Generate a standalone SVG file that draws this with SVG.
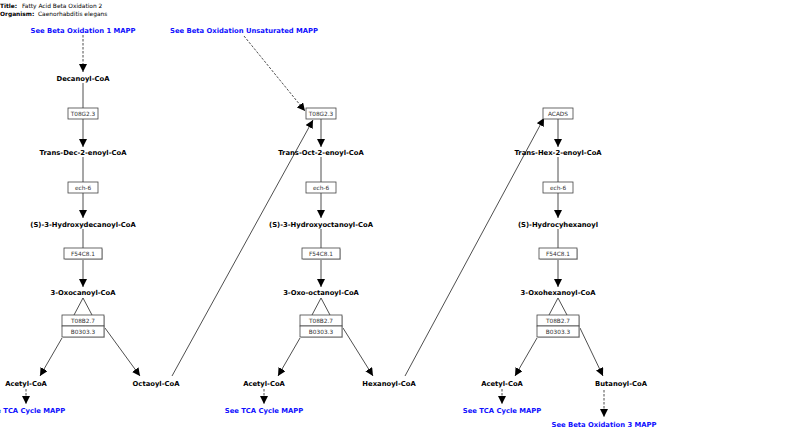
<svg xmlns="http://www.w3.org/2000/svg" width="800" height="437" viewBox="0 0 800 437">
<style>
.m{font-family:"DejaVu Sans",sans-serif;font-weight:bold;font-size:6.8px;fill:#000;text-anchor:middle}
.l{font-family:"DejaVu Sans",sans-serif;font-weight:bold;font-size:6.8px;fill:#1010ff;text-anchor:middle}
.g{font-family:"DejaVu Sans",sans-serif;font-size:5.8px;fill:#333;text-anchor:middle}
.t{font-family:"DejaVu Sans",sans-serif;font-size:5.9px;fill:#000}
.tb{font-weight:bold}
.box{fill:#fff;stroke:#444;stroke-width:0.8}
.sh{fill:#ccc}
.ln{stroke:#222;stroke-width:0.8;fill:none}
.ds{stroke:#222;stroke-width:0.8;fill:none;stroke-dasharray:2.5,1.5}
</style>
<defs>
<marker id="a" markerWidth="8" markerHeight="8" refX="8" refY="4" orient="auto" markerUnits="userSpaceOnUse" viewBox="0 0 8 8">
<path d="M0,0 L8,4 L0,8 Z" fill="#000"/>
</marker>
</defs>
<g id="title">
<text class="t" x="0" y="8"><tspan class="tb">Title:</tspan><tspan x="22">Fatty Acid Beta Oxidation 2</tspan></text>
<text class="t" x="0" y="16"><tspan class="tb">Organism:</tspan><tspan x="38">Caenorhabditis elegans</tspan></text>
</g>
<g id="connectors">
<line class="ds" x1="83" y1="35" x2="83" y2="72" marker-end="url(#a)"/>
<line class="ln" x1="83" y1="83" x2="83" y2="108"/>
<line class="ln" x1="83" y1="119" x2="83" y2="147" marker-end="url(#a)"/>
<line class="ln" x1="83" y1="157" x2="83" y2="182"/>
<line class="ln" x1="83" y1="193" x2="83" y2="218" marker-end="url(#a)"/>
<line class="ln" x1="83" y1="229" x2="83" y2="248"/>
<line class="ln" x1="83" y1="259" x2="83" y2="287" marker-end="url(#a)"/>
<polyline class="ln" points="74,315 83,298 92,315"/>
<line class="ln" x1="62" y1="338" x2="40" y2="376" marker-end="url(#a)"/>
<line class="ln" x1="105" y1="328" x2="140" y2="376" marker-end="url(#a)"/>
<line class="ds" x1="26" y1="389" x2="26" y2="404" marker-end="url(#a)"/>
<line class="ln" x1="172" y1="376" x2="313" y2="120" marker-end="url(#a)"/>
<line class="ds" x1="244" y1="36" x2="305" y2="111" marker-end="url(#a)"/>
<line class="ln" x1="321" y1="119" x2="321" y2="147" marker-end="url(#a)"/>
<line class="ln" x1="321" y1="157" x2="321" y2="182"/>
<line class="ln" x1="321" y1="193" x2="321" y2="218" marker-end="url(#a)"/>
<line class="ln" x1="321" y1="229" x2="321" y2="248"/>
<line class="ln" x1="321" y1="259" x2="321" y2="287" marker-end="url(#a)"/>
<polyline class="ln" points="312,315 321,298 330,315"/>
<line class="ln" x1="300" y1="338" x2="278" y2="376" marker-end="url(#a)"/>
<line class="ln" x1="343" y1="328" x2="373" y2="376" marker-end="url(#a)"/>
<line class="ds" x1="264" y1="389" x2="264" y2="404" marker-end="url(#a)"/>
<line class="ln" x1="405" y1="376" x2="544" y2="118" marker-end="url(#a)"/>
<line class="ln" x1="558" y1="119" x2="558" y2="147" marker-end="url(#a)"/>
<line class="ln" x1="558" y1="157" x2="558" y2="182"/>
<line class="ln" x1="558" y1="193" x2="558" y2="218" marker-end="url(#a)"/>
<line class="ln" x1="558" y1="229" x2="558" y2="248"/>
<line class="ln" x1="558" y1="259" x2="558" y2="287" marker-end="url(#a)"/>
<polyline class="ln" points="549,315 558,298 567,315"/>
<line class="ln" x1="537" y1="338" x2="515" y2="376" marker-end="url(#a)"/>
<line class="ln" x1="580" y1="328" x2="603" y2="376" marker-end="url(#a)"/>
<line class="ds" x1="502" y1="389" x2="502" y2="404" marker-end="url(#a)"/>
<line class="ds" x1="604" y1="390" x2="604" y2="417" marker-end="url(#a)"/>
</g>
<g id="link-bo1"><text class="l" x="83" y="33">See Beta Oxidation 1 MAPP</text></g>
<g id="link-bou"><text class="l" x="244" y="33">See Beta Oxidation Unsaturated MAPP</text></g>
<g id="m-decanoyl"><text class="m" x="83" y="81">Decanoyl-CoA</text></g>
<g id="g-t08g2-1"><rect class="box" x="68" y="108" width="30" height="11"/><text class="g" x="83" y="116">T08G2.3</text></g>
<g id="m-transdec"><text class="m" x="83" y="155">Trans-Dec-2-enoyl-CoA</text></g>
<g id="g-ech6-1"><rect class="box" x="68" y="182" width="30" height="11"/><text class="g" x="83" y="190">ech-6</text></g>
<g id="m-hydroxydec"><text class="m" x="83" y="227">(S)-3-Hydroxydecanoyl-CoA</text></g>
<g id="g-f54-1"><rect class="sh" x="65" y="249" width="38" height="11"/><rect class="box" x="64" y="248" width="38" height="11"/><text class="g" x="83" y="256">F54C8.1</text></g>
<g id="m-oxocan"><text class="m" x="83" y="295">3-Oxocanoyl-CoA</text></g>
<g id="g-thiolase-1"><rect class="sh" x="63" y="316" width="42" height="22"/><rect class="box" x="62" y="315" width="42" height="11"/><rect class="box" x="62" y="326" width="42" height="11"/><text class="g" x="83" y="323">T08B2.7</text><text class="g" x="83" y="334">B0303.3</text></g>
<g id="m-acetyl-1"><text class="m" x="26" y="386">Acetyl-CoA</text></g>
<g id="m-octaoyl"><text class="m" x="156" y="386">Octaoyl-CoA</text></g>
<g id="link-tca-1"><text class="l" x="26" y="413">See TCA Cycle MAPP</text></g>
<g id="g-t08g2-2"><rect class="box" x="306" y="108" width="30" height="11"/><text class="g" x="321" y="116">T08G2.3</text></g>
<g id="m-transoct"><text class="m" x="321" y="155">Trans-Oct-2-enoyl-CoA</text></g>
<g id="g-ech6-2"><rect class="box" x="306" y="182" width="30" height="11"/><text class="g" x="321" y="190">ech-6</text></g>
<g id="m-hydroxyoct"><text class="m" x="321" y="227">(S)-3-Hydroxyoctanoyl-CoA</text></g>
<g id="g-f54-2"><rect class="sh" x="303" y="249" width="38" height="11"/><rect class="box" x="302" y="248" width="38" height="11"/><text class="g" x="321" y="256">F54C8.1</text></g>
<g id="m-oxooct"><text class="m" x="321" y="295">3-Oxo-octanoyl-CoA</text></g>
<g id="g-thiolase-2"><rect class="sh" x="301" y="316" width="42" height="22"/><rect class="box" x="300" y="315" width="42" height="11"/><rect class="box" x="300" y="326" width="42" height="11"/><text class="g" x="321" y="323">T08B2.7</text><text class="g" x="321" y="334">B0303.3</text></g>
<g id="m-acetyl-2"><text class="m" x="264" y="386">Acetyl-CoA</text></g>
<g id="m-hexanoyl"><text class="m" x="389" y="386">Hexanoyl-CoA</text></g>
<g id="link-tca-2"><text class="l" x="264" y="413">See TCA Cycle MAPP</text></g>
<g id="g-acads"><rect class="box" x="543" y="108" width="30" height="11"/><text class="g" x="558" y="116">ACADS</text></g>
<g id="m-transhex"><text class="m" x="558" y="155">Trans-Hex-2-enoyl-CoA</text></g>
<g id="g-ech6-3"><rect class="box" x="543" y="182" width="30" height="11"/><text class="g" x="558" y="190">ech-6</text></g>
<g id="m-hydroxyhex"><text class="m" x="558" y="227">(S)-Hydrocyhexanoyl</text></g>
<g id="g-f54-3"><rect class="sh" x="540" y="249" width="38" height="11"/><rect class="box" x="539" y="248" width="38" height="11"/><text class="g" x="558" y="256">F54C8.1</text></g>
<g id="m-oxohex"><text class="m" x="558" y="295">3-Oxohexanoyl-CoA</text></g>
<g id="g-thiolase-3"><rect class="sh" x="538" y="316" width="42" height="22"/><rect class="box" x="537" y="315" width="42" height="11"/><rect class="box" x="537" y="326" width="42" height="11"/><text class="g" x="558" y="323">T08B2.7</text><text class="g" x="558" y="334">B0303.3</text></g>
<g id="m-acetyl-3"><text class="m" x="502" y="386">Acetyl-CoA</text></g>
<g id="m-butanoyl"><text class="m" x="621" y="386">Butanoyl-CoA</text></g>
<g id="link-tca-3"><text class="l" x="502" y="413">See TCA Cycle MAPP</text></g>
<g id="link-bo3"><text class="l" x="604" y="427">See Beta Oxidation 3 MAPP</text></g>
</svg>
